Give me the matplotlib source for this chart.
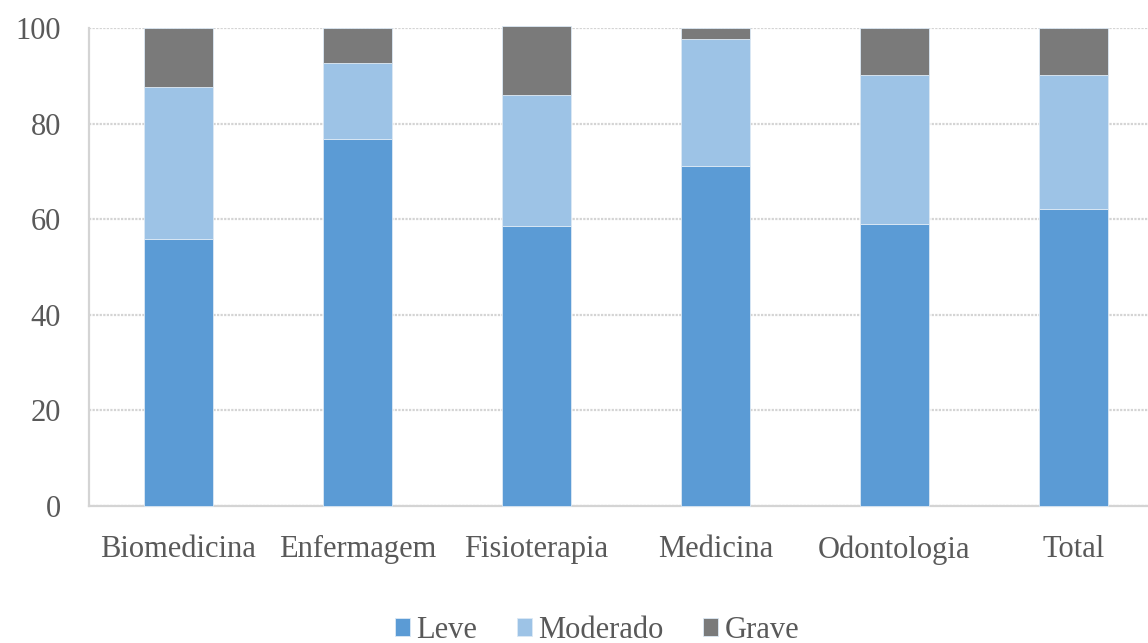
import numpy as np
import matplotlib
matplotlib.use('Agg')
import matplotlib.pyplot as plt

cursos = ['Biomedicina', 'Enfermagem', 'Fisioterapia', 'Medicina', 'Odontologia', 'Total']
leve = [55.9, 76.8, 58.5, 71.1, 58.9, 62.2]
moderado = [31.7, 15.8, 27.4, 26.5, 31.2, 27.9]
grave = [12.4, 7.4, 14.6, 2.4, 9.9, 9.9]
niveis = ['Leve', 'Moderado', 'Grave']
cores = ['#5b9bd5', '#9dc3e6', '#7a7a7a']

plt.rcParams['font.family'] = ['Liberation Serif', 'DejaVu Serif']
texto = '#595959'

fig = plt.figure(figsize=(11.48, 6.43), dpi=100)
ax = fig.add_axes([0.0775, 0.2131, 0.9355, 0.7434])

x = np.arange(len(cursos))
base = np.zeros(len(cursos))
for serie, nome, cor in zip([leve, moderado, grave], niveis, cores):
    ax.bar(x, serie, width=0.39, bottom=base, color=cor, label=nome,
           edgecolor='#dce9f5', linewidth=0.6, zorder=3, clip_on=False)
    base = base + np.array(serie)

ax.set_xlim(-0.5, len(cursos) - 0.5)
ax.set_ylim(0, 100)
ax.set_yticks(np.arange(0, 101, 20))
ax.set_xticks(x)
ax.set_xticklabels(cursos)
ax.tick_params(axis='both', length=0, labelsize=22, colors=texto)
ax.tick_params(axis='x', pad=21)
ax.tick_params(axis='y', pad=20)

ax.grid(axis='y', color='#d4d4d4', linewidth=1.6, linestyle=(0, (1, 0.6)))
ax.set_axisbelow(True)
for lado in ['top', 'right']:
    ax.spines[lado].set_visible(False)
for lado in ['left', 'bottom']:
    ax.spines[lado].set_color('#d4d4d4')
    ax.spines[lado].set_linewidth(1.6)

fig.legend(loc='center', bbox_to_anchor=(0.52, 0.02), ncol=3, frameon=False,
           fontsize=22, labelcolor=texto, handlelength=0.5, handleheight=0.5,
           handletextpad=0.2, columnspacing=1.3, borderaxespad=0)

fig.savefig('out.png', dpi=100)
